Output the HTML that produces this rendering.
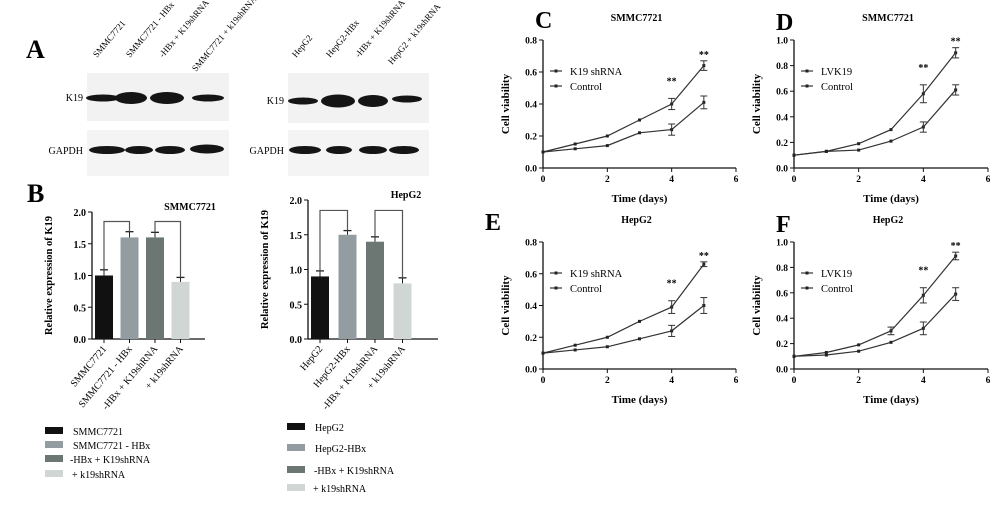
<!DOCTYPE html>
<html><head><meta charset="utf-8"><style>
body{margin:0;background:#fff;}
svg{display:block;font-family:"Liberation Serif",serif;}
</style></head><body>
<svg id="fig" width="1000" height="505" viewBox="0 0 1000 505" xmlns="http://www.w3.org/2000/svg">
<g font-size="10">
<text x="26" y="58" font-size="26" font-weight="bold">A</text>
<rect x="87" y="73" width="142" height="48" fill="#f2f2f2"/>
<rect x="87" y="130" width="142" height="46" fill="#f4f4f4"/>
<rect x="288" y="73" width="141" height="50" fill="#f2f2f2"/>
<rect x="288" y="130" width="141" height="46" fill="#f4f4f4"/>
<g fill="#151515">
<ellipse cx="103" cy="98" rx="17" ry="3.5"/><ellipse cx="131" cy="98" rx="16" ry="6"/><ellipse cx="167" cy="98" rx="17" ry="6"/><ellipse cx="208" cy="98" rx="16" ry="3.5"/>
<ellipse cx="107" cy="150" rx="18" ry="4"/><ellipse cx="139" cy="150" rx="14" ry="4"/><ellipse cx="170" cy="150" rx="15" ry="4"/><ellipse cx="207" cy="149" rx="17" ry="4.5"/>
<ellipse cx="303" cy="101" rx="15" ry="3.5"/><ellipse cx="338" cy="101" rx="17" ry="6.5"/><ellipse cx="373" cy="101" rx="15" ry="6"/><ellipse cx="407" cy="99" rx="15" ry="3.5"/>
<ellipse cx="305" cy="150" rx="16" ry="4"/><ellipse cx="339" cy="150" rx="13" ry="4"/><ellipse cx="373" cy="150" rx="14" ry="4"/><ellipse cx="404" cy="150" rx="15" ry="4"/>
</g>
<text x="83" y="101" text-anchor="end">K19</text>
<text x="83" y="154" text-anchor="end">GAPDH</text>
<text x="284" y="104" text-anchor="end">K19</text>
<text x="284" y="154" text-anchor="end">GAPDH</text>
<g font-size="9">
<text transform="translate(97,58) rotate(-50)">SMMC7721</text>
<text transform="translate(130,58) rotate(-50)">SMMC7721 - HBx</text>
<text transform="translate(163,58) rotate(-50)">-HBx + K19shRNA</text>
<text transform="translate(196,72) rotate(-50)">SMMC7721 + k19shRNA</text>
<text transform="translate(296,58) rotate(-50)">HepG2</text>
<text transform="translate(330,58) rotate(-50)">HepG2-HBx</text>
<text transform="translate(359,58) rotate(-50)">-HBx + K19shRNA</text>
<text transform="translate(392,65) rotate(-50)">HepG2 + k19shRNA</text>
</g>
</g>
<text x="27" y="202" font-size="26" font-weight="bold">B</text>
<text x="535" y="28" font-size="24" font-weight="bold">C</text>
<text x="776" y="30" font-size="24" font-weight="bold">D</text>
<text x="485" y="230" font-size="24" font-weight="bold">E</text>
<text x="776" y="232" font-size="24" font-weight="bold">F</text>
<g id="charts"></g>
</svg>
<script>
const NS="http://www.w3.org/2000/svg";
const root=document.getElementById('charts');
function mk(tag,attrs,parent,text){const e=document.createElementNS(NS,tag);for(const k in attrs)e.setAttribute(k,attrs[k]);if(text!==undefined)e.textContent=text;(parent||root).appendChild(e);return e;}

// Bar chart data
const barCatsSmmc=["SMMC7721","SMMC7721 - HBx","-HBx + K19shRNA","+ k19shRNA"];
const barValsSmmc=[1.0,1.6,1.6,0.9];
const barErrSmmc=[0.09,0.09,0.08,0.07];
const barCatsHep=["HepG2","HepG2-HBx","-HBx + K19shRNA","+ k19shRNA"];
const barValsHep=[0.9,1.5,1.4,0.8];
const barErrHep=[0.08,0.06,0.07,0.08];
const barTicks=[0,0.5,1.0,1.5,2.0];
const barColors=["#111111","#939ca0","#6c7774","#cfd6d4"];

function barChart(cfg){
  const g=mk('g',{});
  
  
  const y=v=>cfg.y0-(v/2)*(cfg.y0-cfg.y2);
  const x=i=>cfg.x0+12+i*cfg.step;
  const axY=mk('line',{x1:cfg.x0,y1:cfg.y2,x2:cfg.x0,y2:cfg.y0,stroke:'#111','stroke-width':1.3},g);
  
  const axX=mk('line',{x1:cfg.x0,y1:cfg.y0,x2:cfg.xEnd,y2:cfg.y0,stroke:'#111','stroke-width':1.3},g);
  
  barTicks.forEach(t=>{
    mk('line',{x1:cfg.x0-4,y1:y(t),x2:cfg.x0,y2:y(t),stroke:'#111'},g);
    const tl=mk('text',{x:cfg.x0-6,y:y(t)+4,'text-anchor':'end','font-size':10,'font-weight':'bold'},g,t.toFixed(1));
    
  });
  cfg.vals.forEach((v,i)=>{
    const cx=x(i);
    const b=mk('rect',{x:cx-9,y:y(v),width:18,height:y(0)-y(v),fill:barColors[i]},g);
    
    mk('line',{x1:cx,y1:y(v),x2:cx,y2:y(v+cfg.err[i]),stroke:'#222'},g);
    mk('line',{x1:cx-4,y1:y(v+cfg.err[i]),x2:cx+4,y2:y(v+cfg.err[i]),stroke:'#222','stroke-width':1.3},g);
    mk('line',{x1:cx,y1:y(0),x2:cx,y2:y(0)+4,stroke:'#111'},g);
    const cl=mk('text',{transform:`translate(${cx+3},${y(0)+10}) rotate(-50)`,'text-anchor':'end','font-size':10},g,cfg.cats[i]);
    
  });
  [[0,1],[2,3]].forEach(p=>{
    const top=y(cfg.brTop);
    mk('polyline',{points:`${x(p[0])},${y(cfg.vals[p[0]]+cfg.err[p[0]])} ${x(p[0])},${top} ${x(p[1])},${top} ${x(p[1])},${y(cfg.vals[p[1]]+cfg.err[p[1]])}`,fill:'none',stroke:'#555','stroke-width':1.2},g);
  });
  const yt=mk('text',{transform:`translate(${cfg.x0-40},${(cfg.y0+cfg.y2)/2}) rotate(-90)`,'text-anchor':'middle','font-size':10.5,'font-weight':'bold'},g,'Relative expression of K19');
  
  const tt=mk('text',{x:cfg.tx,y:cfg.ty,'text-anchor':'middle','font-size':10,'font-weight':'bold'},g,cfg.title);
  
  cfg.cats.forEach((c,i)=>{
    const ly=cfg.leg[i];
    const sw=mk('rect',{x:cfg.lx,y:ly-4,width:18,height:7,fill:barColors[i]},g);
    
    const lt=mk('text',{x:cfg.lx+cfg.ltx[i],y:ly+4,'font-size':10},g,cfg.legCats[i]);
    
  });
}
barChart({name:'bar-chart-smmc7721',x0:92,xEnd:205,y0:339,y2:212,step:25.5,vals:barValsSmmc,err:barErrSmmc,cats:barCatsSmmc,brTop:1.85,title:'SMMC7721',tx:190,ty:210,lx:45,leg:[431,445,459,474],ltx:[28,28,25,27],legCats:barCatsSmmc});
barChart({name:'bar-chart-hepg2',x0:308,xEnd:438,y0:339,y2:200,step:27.5,vals:barValsHep,err:barErrHep,cats:barCatsHep,brTop:1.85,title:'HepG2',tx:406,ty:198,lx:287,leg:[427,448,470,488],ltx:[28,28,27,26],legCats:barCatsHep});

// Line chart data
const days=[0,1,2,3,4,5];
const xTicks=[0,2,4,6];
const cUpper=[0.10,0.15,0.20,0.30,0.40,0.64], cLower=[0.10,0.12,0.14,0.22,0.24,0.41];
const cUpperErr=[0,0,0,0,0.035,0.03], cLowerErr=[0,0,0,0,0.035,0.04];
const dUpper=[0.10,0.13,0.19,0.30,0.58,0.90], dLower=[0.10,0.13,0.14,0.21,0.32,0.61];
const dUpperErr=[0,0,0,0,0.07,0.04], dLowerErr=[0,0,0,0,0.04,0.04];
const eUpper=[0.10,0.15,0.20,0.30,0.39,0.66], eLower=[0.10,0.12,0.14,0.19,0.24,0.40];
const eUpperErr=[0,0,0,0,0.04,0.015], eLowerErr=[0,0,0,0,0.035,0.05];
const fUpper=[0.10,0.13,0.19,0.30,0.58,0.89], fLower=[0.10,0.11,0.14,0.21,0.32,0.59];
const fUpperErr=[0,0,0,0.03,0.06,0.03], fLowerErr=[0,0,0,0,0.05,0.05];
const ticksSmall=[0,0.2,0.4,0.6,0.8], ticksBig=[0,0.2,0.4,0.6,0.8,1.0];

function lineChart(cfg){
  const g=mk('g',{});
  
  
  const ymax=cfg.ticks[cfg.ticks.length-1];
  const X=d=>cfg.x0+d*(cfg.x6-cfg.x0)/6;
  const Y=v=>cfg.y0-v*(cfg.y0-cfg.yTop)/ymax;
  const ay=mk('line',{x1:cfg.x0,y1:cfg.yTop,x2:cfg.x0,y2:cfg.y0,stroke:'#111','stroke-width':1.3},g);
  
  const ax=mk('line',{x1:cfg.x0,y1:cfg.y0,x2:cfg.x6,y2:cfg.y0,stroke:'#111','stroke-width':1.3},g);
  
  cfg.ticks.forEach(t=>{
    mk('line',{x1:cfg.x0-4,y1:Y(t),x2:cfg.x0,y2:Y(t),stroke:'#111'},g);
    const l=mk('text',{x:cfg.x0-6,y:Y(t)+3.5,'text-anchor':'end','font-size':9.5,'font-weight':'bold'},g,t.toFixed(1));
    
  });
  xTicks.forEach(t=>{
    mk('line',{x1:X(t),y1:cfg.y0,x2:X(t),y2:cfg.y0+4,stroke:'#111'},g);
    const l=mk('text',{x:X(t),y:cfg.y0+14,'text-anchor':'middle','font-size':9.5,'font-weight':'bold'},g,String(t));
    
  });
  [[cfg.up,cfg.upErr],[cfg.lo,cfg.loErr]].forEach((s,si)=>{
    const pts=days.map((d,i)=>X(d)+','+Y(s[0][i])).join(' ');
    const pl=mk('polyline',{points:pts,fill:'none',stroke:'#333','stroke-width':1.2},g);
    
    days.forEach((d,i)=>{
      const m=mk('rect',{x:X(d)-1.5,y:Y(s[0][i])-1.5,width:3,height:3,fill:'#222'},g);
      
      const e=s[1][i];
      if(e>0){
        mk('line',{x1:X(d),y1:Y(s[0][i]-e),x2:X(d),y2:Y(s[0][i]+e),stroke:'#333'},g);
        mk('line',{x1:X(d)-3.5,y1:Y(s[0][i]-e),x2:X(d)+3.5,y2:Y(s[0][i]-e),stroke:'#333'},g);
        mk('line',{x1:X(d)-3.5,y1:Y(s[0][i]+e),x2:X(d)+3.5,y2:Y(s[0][i]+e),stroke:'#333'},g);
      }
    });
  });
  [4,5].forEach(d=>{
    const st=mk('text',{x:X(d),y:Y(cfg.up[d]+cfg.upErr[d])-(d===4?14:3),'text-anchor':'middle','font-size':10,'font-weight':'bold'},g,'**');
    
  });
  const lx=cfg.x0+7;
  [[cfg.l1,cfg.ly],['Control',cfg.ly+15]].forEach((l,i)=>{
    mk('line',{x1:lx,y1:l[1],x2:lx+12,y2:l[1],stroke:'#333','stroke-width':1.2},g);
    mk('rect',{x:lx+4.5,y:l[1]-1.5,width:3,height:3,fill:'#222'},g);
    const t=mk('text',{x:lx+20,y:l[1]+4,'font-size':10.5},g,l[0]);
    
  });
  const tt=mk('text',{x:(cfg.x0+cfg.x6)/2-3,y:cfg.yTop-19,'text-anchor':'middle','font-size':10,'font-weight':'bold'},g,cfg.title);
  
  const xt=mk('text',{x:(cfg.x0+cfg.x6)/2,y:cfg.y0+34,'text-anchor':'middle','font-size':11,'font-weight':'bold'},g,'Time (days)');
  
  const yt=mk('text',{transform:`translate(${cfg.x0-34},${(cfg.y0+cfg.yTop)/2}) rotate(-90)`,'text-anchor':'middle','font-size':11,'font-weight':'bold'},g,'Cell viability');
  
}
lineChart({name:'line-chart-c',x0:543,x6:736,y0:168,yTop:40,ticks:ticksSmall,up:cUpper,lo:cLower,upErr:cUpperErr,loErr:cLowerErr,l1:'K19 shRNA',ly:71,title:'SMMC7721'});
lineChart({name:'line-chart-d',x0:794,x6:988,y0:168,yTop:40,ticks:ticksBig,up:dUpper,lo:dLower,upErr:dUpperErr,loErr:dLowerErr,l1:'LVK19',ly:71,title:'SMMC7721'});
lineChart({name:'line-chart-e',x0:543,x6:736,y0:369,yTop:242,ticks:ticksSmall,up:eUpper,lo:eLower,upErr:eUpperErr,loErr:eLowerErr,l1:'K19 shRNA',ly:273,title:'HepG2'});
lineChart({name:'line-chart-f',x0:794,x6:988,y0:369,yTop:242,ticks:ticksBig,up:fUpper,lo:fLower,upErr:fUpperErr,loErr:fLowerErr,l1:'LVK19',ly:273,title:'HepG2'});
</script>
</body></html>
